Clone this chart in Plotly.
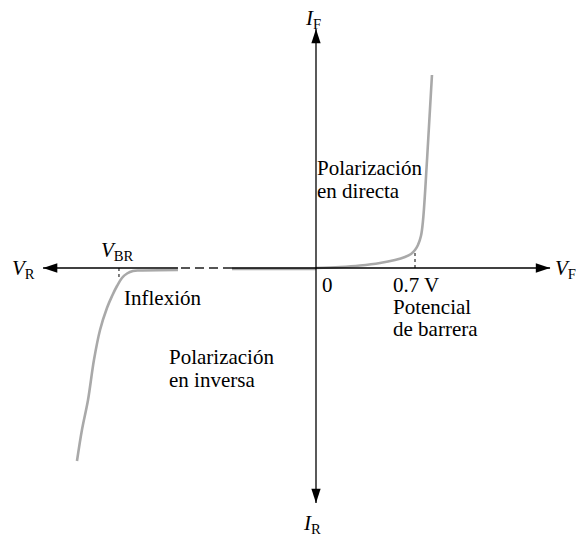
import plotly.graph_objects as go

# Forward bias branch (V, arbitrary current units)
fwd_v = [0, 0.170, 0.311, 0.4525, 0.5586, 0.629, 0.672, 0.700, 0.721, 0.742, 0.757, 0.785, 0.820]
fwd_i = [0, 0.01, 0.025, 0.05, 0.08, 0.11, 0.14, 0.18, 0.23, 0.32, 0.48, 1.08, 1.93]

# Reverse bias branch, near zero part (before the broken section)
rev_flat_v = [0, -0.594]
rev_flat_i = [-0.01, -0.01]

# Broken (dashed) section of the reverse branch
gap_v = [-0.594, -0.976]
gap_i = [0, 0]

# Reverse branch after the break, down through breakdown
rev_v = [-0.976, -1.244, -1.294, -1.336, -1.372, -1.407, -1.442, -1.478, -1.527, -1.570, -1.612, -1.655, -1.690]
rev_i = [-0.02, -0.025, -0.03, -0.055, -0.10, -0.18, -0.28, -0.40, -0.62, -0.92, -1.32, -1.62, -1.93]

# Axis extents
v_min, v_max = -1.93, 1.655
i_min, i_max = -2.35, 2.39

# Marked voltages
v_br = -1.393
v_barrier = 0.7
i_br_mark = -0.11
i_barrier_mark = 0.18

curve_color = "#a9a9a9"
font_family = "Times New Roman, Liberation Serif, DejaVu Serif, serif"

fig = go.Figure()

# gray diode curve
fig.add_trace(go.Scatter(x=fwd_v, y=fwd_i, mode="lines",
                         line=dict(color=curve_color, width=2.6), line_shape="spline"))
fig.add_trace(go.Scatter(x=rev_flat_v, y=rev_flat_i, mode="lines",
                         line=dict(color=curve_color, width=2.6)))
fig.add_trace(go.Scatter(x=rev_v, y=rev_i, mode="lines",
                         line=dict(color=curve_color, width=2.6), line_shape="spline"))

# horizontal axis, broken by a dashed piece
fig.add_trace(go.Scatter(x=[v_min, gap_v[1]], y=[0, 0], mode="lines",
                         line=dict(color="black", width=1.3)))
fig.add_trace(go.Scatter(x=gap_v, y=gap_i, mode="lines",
                         line=dict(color="#555555", width=2.2, dash="9px,5px")))
fig.add_trace(go.Scatter(x=[gap_v[0], v_max], y=[0, 0], mode="lines",
                         line=dict(color="black", width=1.3)))

# vertical axis
fig.add_trace(go.Scatter(x=[0, 0], y=[i_min, i_max], mode="lines",
                         line=dict(color="black", width=1.3)))

# arrow heads at the axis ends
fig.add_trace(go.Scatter(
    x=[v_min, v_max, 0, 0], y=[0, 0, i_max, i_min], mode="markers",
    marker=dict(symbol="arrow", size=15, color="black", angle=[270, 90, 0, 180],
                line=dict(width=0))))

# dotted marker lines
fig.add_trace(go.Scatter(x=[v_br, v_br], y=[0, i_br_mark], mode="lines",
                         line=dict(color="black", width=1, dash="dot")))
fig.add_trace(go.Scatter(x=[v_barrier, v_barrier], y=[0, i_barrier_mark], mode="lines",
                         line=dict(color="black", width=1, dash="dot")))

# text labels
labels = [
    ("<i>V</i><sub>R</sub>", -1.973, -0.01, "right"),
    ("<i>V</i><sub>F</sub>", 1.675, -0.01, "left"),
    ("<i>I</i><sub>F</sub>", -0.021, 2.49, "center"),
    ("<i>I</i><sub>R</sub>", -0.028, -2.56, "center"),
    ("<i>V</i><sub>BR</sub>", -1.40, 0.17, "center"),
    ("Inflexión", -1.37, -0.30, "left"),
    ("0", 0.025, -0.17, "left"),
    ("0.7 V", 0.530, -0.17, "left"),
    ("Potencial", 0.530, -0.39, "left"),
    ("de barrera", 0.530, -0.61, "left"),
    ("Polarización", -0.007, 1.00, "left"),
    ("en directa", -0.007, 0.77, "left"),
    ("Polarización", -1.054, -0.89, "left"),
    ("en inversa", -1.054, -1.12, "left"),
]
for text, x, y, anchor in labels:
    fig.add_annotation(x=x, y=y, text=text, showarrow=False,
                       xanchor=anchor, yanchor="middle",
                       font=dict(family=font_family, size=21, color="black"))

fig.update_layout(
    width=576, height=536,
    margin=dict(l=0, r=0, t=0, b=0),
    paper_bgcolor="white", plot_bgcolor="white",
    showlegend=False,
    font=dict(family=font_family, size=21, color="black"),
    xaxis=dict(range=[-2.2343, 1.8384], visible=False, fixedrange=True),
    yaxis=dict(range=[-2.68, 2.68], visible=False, fixedrange=True),
)

# drop the default page margin so the figure sits at the window corner
fig.write_html("out.html", config={"displayModeBar": False},
               post_script="document.body.style.margin = '0';")
